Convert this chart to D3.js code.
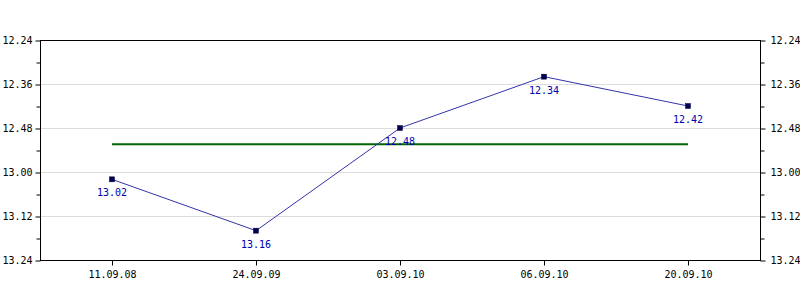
<!doctype html>
<html>
<head>
<meta charset="utf-8">
<script src="https://cdnjs.cloudflare.com/ajax/libs/d3/7.8.5/d3.min.js"></script>
<style>
  body { margin: 0; background: #fff; }
  text { font-family: "DejaVu Sans Mono", monospace; font-size: 10px; }
</style>
</head>
<body>
<svg id="chart" width="800" height="300"></svg>
<script>
// dates and times (min.sec)
var dates = ["11.09.08", "24.09.09", "03.09.10", "06.09.10", "20.09.10"];
var times = ["13.02", "13.16", "12.48", "12.34", "12.42"];
var yMin = "12.24", yMax = "13.24";

function toSec(s) { var p = s.split("."); return +p[0] * 60 + +p[1]; }
function fmt(v) { var m = Math.floor(v / 60), s = Math.round(v - m * 60); return m + "." + (s < 10 ? "0" : "") + s; }

var secs = times.map(toSec);
var avg = d3.mean(secs);

var svg = d3.select("#chart");
var pl = 40, pr = 760, pt = 40, pb = 260;

var x = d3.scaleBand().domain(dates).range([pl, pr]);
var y = d3.scaleLinear().domain([toSec(yMin), toSec(yMax)]).range([pt, pb]);

var major = d3.range(toSec(yMin), toSec(yMax) + 1, 12);
var minor = d3.range(toSec(yMin) + 6, toSec(yMax), 12);

// gridlines
svg.append("g").selectAll("line").data(major.slice(1, -1)).enter().append("line")
  .attr("x1", pl).attr("x2", pr)
  .attr("y1", d => y(d) + 0.5).attr("y2", d => y(d) + 0.5)
  .attr("stroke", "#dddddd");

// frame
svg.append("rect").attr("x", pl + 0.5).attr("y", pt + 0.5)
  .attr("width", pr - pl).attr("height", pb - pt)
  .attr("fill", "none").attr("stroke", "#000");

var yl = d3.axisLeft(y).tickValues(major).tickFormat(fmt).tickSize(5).tickPadding(3);
var yr = d3.axisRight(y).tickValues(major).tickFormat(fmt).tickSize(5).tickPadding(5);
svg.append("g").attr("class", "ax").attr("transform", "translate(" + (pl + 0.5) + ",0.5)").call(yl);
svg.append("g").attr("class", "ax").attr("transform", "translate(" + (pr + 0.5) + ",0.5)").call(yr);
svg.append("g").attr("class", "ax").attr("transform", "translate(" + (pl + 0.5) + ",0.5)")
  .call(d3.axisLeft(y).tickValues(minor).tickFormat("").tickSize(4));
svg.append("g").attr("class", "ax").attr("transform", "translate(" + (pr + 0.5) + ",0.5)")
  .call(d3.axisRight(y).tickValues(minor).tickFormat("").tickSize(4));

var xa = d3.axisBottom(x).tickSize(5).tickPadding(5);
svg.append("g").attr("class", "ax").attr("transform", "translate(0.5," + (pb + 0.5) + ")").call(xa);

svg.selectAll(".ax path.domain").remove();
svg.selectAll(".ax text").attr("fill", "#000").style("font-family", "DejaVu Sans Mono").style("font-size", "10px");

var cx = d => x(d) + x.bandwidth() / 2;

// average line
svg.append("line")
  .attr("x1", cx(dates[0])).attr("x2", cx(dates[dates.length - 1]))
  .attr("y1", y(avg)).attr("y2", y(avg))
  .attr("stroke", "#006600").attr("stroke-width", 2);

// series
var line = d3.line().x((d, i) => cx(dates[i])).y(d => y(d));
svg.append("path").attr("d", line(secs))
  .attr("fill", "none").attr("stroke", "#3333aa").attr("stroke-width", 1);

svg.selectAll("rect.pt").data(secs).enter().append("rect")
  .attr("class", "pt")
  .attr("x", (d, i) => cx(dates[i]) - 2.5).attr("y", d => y(d) - 2.5)
  .attr("width", 5).attr("height", 5)
  .attr("fill", "#000055").attr("stroke", "#000033").attr("stroke-width", 0.5);

svg.selectAll("text.lbl").data(secs).enter().append("text")
  .attr("class", "lbl")
  .attr("x", (d, i) => cx(dates[i])).attr("y", d => y(d) + 17)
  .attr("text-anchor", "middle").attr("fill", "#0000aa")
  .text((d, i) => times[i]);
</script>
</body>
</html>
